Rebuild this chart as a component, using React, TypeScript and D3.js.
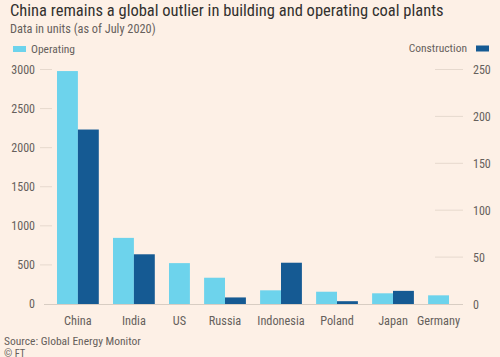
import React from "react";
import * as d3 from "d3";

const categories = ["China", "India", "US", "Russia", "Indonesia", "Poland", "Japan", "Germany"];
const operating = [2980, 846, 523, 336, 175, 157, 137, 111];
const construction = [186, 53, 0, 7, 44, 3, 14, 0];
const leftTicks = [0, 500, 1000, 1500, 2000, 2500, 3000];
const rightTicks = [0, 50, 100, 150, 200, 250];

const W = 500;
const H = 357;
const FONT = "'Liberation Sans Narrow', 'Roboto Condensed', 'DejaVu Sans Condensed', 'Liberation Sans', sans-serif";
const BG = "#fdf0e6";
const C_OP = "#6dd3ec";
const C_CON = "#155a93";
const TEXT = "#66605c";

export default function App() {
  const y0 = 304;
  const yTop = 69.5;
  const yL = d3.scaleLinear().domain([0, 3000]).range([y0, yTop]);
  const yR = d3.scaleLinear().domain([0, 250]).range([y0, yTop]);

  // slot layout: each bar = 1 unit, gap between groups
  const gap = 0.68;
  const nBars = categories.map((_, i) => (construction[i] > 0 ? 2 : 1));
  const starts: number[] = [];
  let acc = 0;
  nBars.forEach((n, i) => {
    starts.push(acc);
    acc += n + (i < nBars.length - 1 ? gap : 0);
  });
  const x = d3.scaleLinear().domain([0, acc]).range([57, 449]);
  const bw = x(1) - x(0);

  return (
    <svg width={W} height={H} style={{ display: "block", position: "absolute", left: 0, top: 0 }}>
      <rect x={0} y={0} width={W} height={H} fill={BG} />
      <text x={10} y={16} fontFamily={FONT} fontSize={16.5} fill="#33302e">
        China remains a global outlier in building and operating coal plants
      </text>
      <text x={10} y={32.5} fontFamily={FONT} fontSize={12.3} fill={TEXT}>
        Data in units (as of July 2020)
      </text>
      {/* legend */}
      <rect x={13} y={46} width={13} height={6} fill={C_OP} />
      <text x={31} y={52.5} fontFamily={FONT} fontSize={11.5} fill={TEXT}>Operating</text>
      <rect x={476} y={45.5} width={13} height={6} fill={C_CON} />
      <text x={467} y={52} fontFamily={FONT} fontSize={11.5} fill={TEXT} textAnchor="end">Construction</text>

      {/* left axis */}
      {leftTicks.map((t) => (
        <g key={"l" + t}>
          {t > 0 && <line x1={40} x2={52} y1={yL(t)} y2={yL(t)} stroke="#e6d9ce" strokeWidth={1} />}
          <text x={35} y={yL(t) + 4} fontFamily={FONT} fontSize={12} fill={TEXT} textAnchor="end">{t}</text>
        </g>
      ))}
      {/* right axis */}
      {rightTicks.map((t) => (
        <g key={"r" + t}>
          {t > 0 && <line x1={435} x2={463} y1={yR(t)} y2={yR(t)} stroke="#e6d9ce" strokeWidth={1} />}
          <text x={473} y={yR(t) + 4.5} fontFamily={FONT} fontSize={12} fill={TEXT}>{t}</text>
        </g>
      ))}

      {/* bars */}
      {categories.map((c, i) => {
        const xs = x(starts[i]);
        const n = nBars[i];
        return (
          <g key={c}>
            <rect x={xs} y={yL(operating[i])} width={bw} height={y0 - yL(operating[i])} fill={C_OP} />
            {n === 2 && (
              <rect x={xs + bw} y={yR(construction[i])} width={bw} height={y0 - yR(construction[i])} fill={C_CON} />
            )}
            <text x={xs + (n * bw) / 2} y={325} fontFamily={FONT} fontSize={12.3} fill={TEXT} textAnchor="middle">{c}</text>
          </g>
        );
      })}
      <line x1={44} x2={463} y1={y0 + 0.5} y2={y0 + 0.5} stroke="#d8cdc3" strokeWidth={1} />

      <text x={4} y={344.5} fontFamily={FONT} fontSize={11.5} fill={TEXT}>Source: Global Energy Monitor</text>
      <text x={4} y={357} fontFamily={FONT} fontSize={10.5} fill={TEXT}>© FT</text>
    </svg>
  );
}
